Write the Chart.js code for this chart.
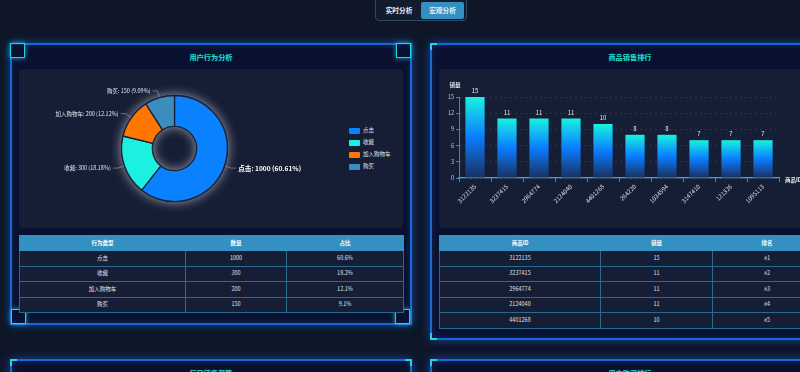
<!DOCTYPE html>
<html lang="zh-CN">
<head>
<meta charset="UTF-8">
<title>宏观分析</title>
<script src="https://cdnjs.cloudflare.com/ajax/libs/Chart.js/4.4.0/chart.umd.min.js"></script>
<style>
    html, body { margin: 0; padding: 0; }
    body {
        width: 800px; height: 372px; overflow: hidden; position: relative;
        background: #0e1628;
        font-family: "Noto Sans CJK SC", "Noto Sans", sans-serif;
        color: #dde2ea;
    }
    .tabs {
        position: absolute; left: 375px; top: -4px; width: 90px; height: 23px;
        background: #131c2f; border: 1px solid #2c4a66; border-radius: 4px;
    }
    .tab {
        position: absolute; top: 5px; height: 17px; line-height: 17px;
        font-size: 6.7px; font-weight: bold; color: #e8eef5; text-align: center; border-radius: 2px;
    }
    .tab.active { background: #3590c2; }
    .panel {
        position: absolute; box-sizing: border-box;
        background: #0a1130; border: 2px solid #1769d9;
        box-shadow: 0 0 9px rgba(30, 110, 240, 0.55), inset 0 0 6px rgba(30, 110, 240, 0.25);
    }
    .panel-title {
        position: absolute; left: 0; right: 0; top: 7px; text-align: center;
        color: #1fe3d3; font-size: 7.2px; font-weight: bold;
    }
    .sq {
        position: absolute; width: 15px; height: 15px; box-sizing: border-box;
        border: 1.5px solid #22d3e6; background: rgba(10, 17, 48, 0.7);
        box-shadow: 0 0 5px rgba(30, 210, 230, 0.8);
    }
    .lc {
        position: absolute; width: 7px; height: 7px; box-sizing: border-box;
        border-left: 2px solid #1fd6e6;
    }
    .inner { position: absolute; background: #161e36; border-radius: 4px; }
    .legend { position: absolute; left: 349px; top: 126px; font-size: 5.5px; color: #dfe3ea; }
    .legend div { height: 12px; line-height: 8px; white-space: nowrap; }
    .legend span { display: inline-block; width: 11px; height: 6px; margin-right: 3px; vertical-align: middle; border-radius: 1px; }
    table {
        position: absolute; border-collapse: collapse; table-layout: fixed;
        font-size: 5.5px; color: #dfe3ea; background: #161e36;
    }
    th, td { padding: 0; line-height: 7px; box-sizing: border-box; }
    th { background: #3590c2; color: #fff; font-weight: bold; height: 15px; border: 1px solid #3590c2; }
    td { height: 15.5px; text-align: center; border: 1px solid #2b6a8f; }
</style>
</head>
<body>
<div class="tabs">
    <div class="tab" style="left:3px;width:40px;">实时分析</div>
    <div class="tab active" style="left:45px;width:43px;">宏观分析</div>
</div>

<!-- left panel -->
<div class="panel" style="left:10px;top:43px;width:402px;height:282px;">
    <div class="panel-title">用户行为分析</div>
</div>
<div class="sq" style="left:10px;top:43px;"></div>
<div class="sq" style="left:396px;top:43px;"></div>
<div class="sq" style="left:11px;top:309px;"></div>
<div class="sq" style="left:395px;top:309px;"></div>
<div class="inner" style="left:19px;top:69px;width:384px;height:159px;"></div>
<div style="position:absolute;left:19px;top:69px;width:311px;height:159px;"><canvas id="pieChart"></canvas></div>
<div class="legend" id="pieLegend"></div>
<table id="behaviorTable" style="left:19px;top:235px;width:384px;">
    <colgroup><col style="width:166px"><col style="width:101px"><col style="width:117px"></colgroup>
</table>

<!-- right panel -->
<div class="panel" style="left:430px;top:43px;width:400px;height:297px;">
    <div class="panel-title">商品销售排行</div>
</div>
<div class="lc" style="left:430px;top:43px;border-top:2px solid #1fd6e6;"></div>
<div class="lc" style="left:430px;top:333px;border-bottom:2px solid #1fd6e6;"></div>
<div class="inner" style="left:439px;top:69px;width:382px;height:159px;"></div>
<div style="position:absolute;left:439px;top:69px;width:382px;height:159px;"><canvas id="barChart"></canvas></div>
<table id="productTable" style="left:439px;top:235px;width:382px;">
    <colgroup><col style="width:161px"><col style="width:112px"><col style="width:109px"></colgroup>
</table>

<!-- bottom panels (cut off) -->
<div class="panel" style="left:10px;top:359px;width:402px;height:200px;">
    <div class="panel-title">每日销售趋势</div>
</div>
<div class="lc" style="left:10px;top:359px;border-top:2px solid #1fd6e6;"></div>
<div class="lc" style="left:405px;top:359px;border-top:2px solid #1fd6e6;border-left:none;border-right:2px solid #1fd6e6;"></div>
<div class="panel" style="left:430px;top:359px;width:400px;height:200px;">
    <div class="panel-title">用户购买排行</div>
</div>
<div class="lc" style="left:430px;top:359px;border-top:2px solid #1fd6e6;"></div>

<script>
    const FONT = '"Noto Sans CJK SC", "Noto Sans", sans-serif';

    // user behaviour
    const behaviorLabels = ['点击', '收藏', '加入购物车', '购买'];
    const behaviorValues = [1000, 300, 200, 150];
    const behaviorColors = ['#0a82ff', '#1cf0de', '#ff7600', '#3a8dbd'];
    const highlightIndex = 0;

    // product sales ranking
    const productIds = ['3122135', '3237415', '2964774', '2124040', '4401268', '264220', '1034594', '3147410', '121326', '1095113'];
    const productSales = [15, 11, 11, 11, 10, 8, 8, 7, 7, 7];
    const salesTicks = [0, 3, 6, 9, 12, 15];

    Chart.defaults.font.family = FONT;

    const total = behaviorValues.reduce((a, b) => a + b, 0);

    // tables
    function buildTable(id, headers, rows) {
        const t = document.getElementById(id);
        let html = '<tr>' + headers.map(h => `<th>${h}</th>`).join('') + '</tr>';
        rows.forEach(r => { html += '<tr>' + r.map(c => `<td>${c}</td>`).join('') + '</tr>'; });
        t.insertAdjacentHTML('beforeend', html);
    }
    buildTable('behaviorTable', ['行为类型', '数量', '占比'],
        behaviorLabels.map((l, i) => [l, behaviorValues[i], (behaviorValues[i] / total * 100).toFixed(1) + '%']));
    buildTable('productTable', ['商品ID', '销量', '排名'],
        productIds.slice(0, 5).map((p, i) => [p, productSales[i], '#' + (i + 1)]));

    // legend
    document.getElementById('pieLegend').innerHTML = behaviorLabels
        .map((l, i) => `<div><span style="background:${behaviorColors[i]}"></span>${l}</div>`).join('');

    // glow ring behind the donut
    const ringGlow = {
        id: 'ringGlow',
        beforeDatasetsDraw(chart) {
            const arc = chart.getDatasetMeta(0).data[0];
            if (!arc) return;
            const { x, y, outerRadius, innerRadius } = arc.getProps(['x', 'y', 'outerRadius', 'innerRadius'], true);
            const ctx = chart.ctx;
            ctx.save();
            ctx.shadowColor = 'rgba(255,255,255,0.6)';
            ctx.shadowBlur = 11;
            ctx.fillStyle = '#1a2038';
            ctx.beginPath();
            ctx.arc(x, y, outerRadius + 0.5, 0, Math.PI * 2);
            ctx.arc(x, y, innerRadius, 0, Math.PI * 2, true);
            ctx.fill();
            ctx.restore();
        }
    };

    // outside labels with leader lines
    const pieLabels = {
        id: 'pieLabels',
        afterDatasetsDraw(chart) {
            const ctx = chart.ctx;
            chart.getDatasetMeta(0).data.forEach((arc, i) => {
                const { x, y, startAngle, endAngle, outerRadius } = arc.getProps(['x', 'y', 'startAngle', 'endAngle', 'outerRadius'], true);
                const mid = (startAngle + endAngle) / 2;
                const c = Math.cos(mid), s = Math.sin(mid);
                const x0 = x + c * (outerRadius + 1), y0 = y + s * (outerRadius + 1);
                const x1 = x + c * (outerRadius + 7), y1 = y + s * (outerRadius + 7);
                const dir = c >= 0 ? 1 : -1;
                const x2 = x1 + dir * 5;
                ctx.save();
                ctx.strokeStyle = 'rgba(190,196,208,0.6)';
                ctx.lineWidth = 0.8;
                ctx.beginPath();
                ctx.moveTo(x0, y0); ctx.lineTo(x1, y1); ctx.lineTo(x2, y1);
                ctx.stroke();
                const big = i === highlightIndex;
                ctx.font = (big ? 'bold 6.6px ' : '5.5px ') + FONT;
                ctx.fillStyle = big ? '#ffffff' : '#dfe3ea';
                ctx.textAlign = dir > 0 ? 'left' : 'right';
                ctx.textBaseline = 'middle';
                const pct = (behaviorValues[i] / total * 100).toFixed(2);
                ctx.fillText(`${behaviorLabels[i]}: ${behaviorValues[i]} (${pct}%)`, x2 + dir * 2, y1);
                ctx.restore();
            });
        }
    };

    new Chart(document.getElementById('pieChart'), {
        type: 'doughnut',
        data: {
            labels: behaviorLabels,
            datasets: [{
                data: behaviorValues,
                backgroundColor: behaviorColors,
                borderColor: '#1a2038',
                borderWidth: 1.3
            }]
        },
        options: {
            responsive: true,
            maintainAspectRatio: false,
            animation: false,
            radius: 53,
            cutout: 33,
            plugins: { legend: { display: false }, tooltip: { enabled: false } }
        },
        plugins: [ringGlow, pieLabels]
    });

    // bar value labels and axis names
    const barExtras = {
        id: 'barExtras',
        afterDatasetsDraw(chart) {
            const ctx = chart.ctx;
            const { x: xs, y: ys } = chart.scales;
            ctx.save();
            ctx.fillStyle = '#e8ecf2';
            ctx.font = '6px ' + FONT;
            ctx.textAlign = 'center';
            ctx.textBaseline = 'bottom';
            chart.getDatasetMeta(0).data.forEach((bar, i) => {
                ctx.fillText(productSales[i], bar.x, bar.y - 3);
            });
            ctx.font = 'bold 5.5px ' + FONT;
            ctx.textBaseline = 'middle';
            ctx.fillText('销量', ys.right - 4, ys.top - 12);
            ctx.textAlign = 'left';
            ctx.fillText('商品ID', xs.right + 6, xs.top + 2);
            ctx.restore();
        }
    };

    function barGradient(c) {
        const { ctx, chartArea, scales } = c.chart;
        if (!chartArea || c.raw === undefined) return '#0a7cff';
        const top = scales.y.getPixelForValue(c.raw);
        const bottom = scales.y.getPixelForValue(0);
        const g = ctx.createLinearGradient(0, top, 0, bottom);
        g.addColorStop(0, '#18f2e0');
        g.addColorStop(0.5, '#0a7cff');
        g.addColorStop(1, '#1b2f5e');
        return g;
    }

    const axisColor = '#2e8cc4';
    new Chart(document.getElementById('barChart'), {
        type: 'bar',
        data: {
            labels: productIds,
            datasets: [{
                data: productSales,
                backgroundColor: barGradient,
                categoryPercentage: 1,
                barPercentage: 0.6
            }]
        },
        options: {
            responsive: true,
            maintainAspectRatio: false,
            animation: false,
            layout: { padding: { top: 28, right: 42, left: 0, bottom: 0 } },
            plugins: { legend: { display: false }, tooltip: { enabled: false } },
            scales: {
                x: {
                    afterFit(scale) { scale.height = 50; },
                    grid: { drawOnChartArea: false, drawTicks: true, tickLength: 4, tickColor: axisColor, offset: true },
                    border: { display: true, color: '#3aa4dc', width: 1.2 },
                    ticks: { color: '#d8dce4', font: { size: 6 }, minRotation: 45, maxRotation: 45, autoSkip: false, padding: 1 }
                },
                y: {
                    min: 0,
                    max: 15,
                    afterFit(scale) { scale.width = 20; },
                    afterBuildTicks(scale) { scale.ticks = salesTicks.map(v => ({ value: v })); },
                    grid: { color: 'rgba(255,255,255,0.1)', tickColor: axisColor, tickLength: 3 },
                    border: { display: true, color: axisColor, width: 1, dash: [2, 3] },
                    ticks: { color: '#c8ccd6', font: { size: 5.5 }, padding: 2 }
                }
            }
        },
        plugins: [barExtras]
    });
</script>
</body>
</html>
